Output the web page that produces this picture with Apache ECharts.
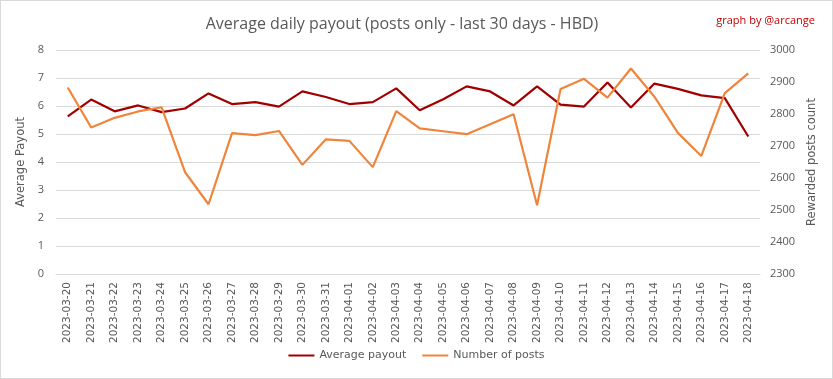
<!DOCTYPE html>
<html><head><meta charset="utf-8">
<script src="https://cdn.jsdelivr.net/npm/echarts@6/dist/echarts.min.js"></script>
<style>html,body{margin:0;padding:0;background:#fff}#c{width:833px;height:379px;box-sizing:border-box;border:1px solid #d9d9d9}</style>
</head><body><div id="c"></div>
<script>
const dates = ["2023-03-20","2023-03-21","2023-03-22","2023-03-23","2023-03-24","2023-03-25","2023-03-26","2023-03-27","2023-03-28","2023-03-29","2023-03-30","2023-03-31","2023-04-01","2023-04-02","2023-04-03","2023-04-04","2023-04-05","2023-04-06","2023-04-07","2023-04-08","2023-04-09","2023-04-10","2023-04-11","2023-04-12","2023-04-13","2023-04-14","2023-04-15","2023-04-16","2023-04-17","2023-04-18"];
const averagePayout = [5.63,6.23,5.81,6.02,5.78,5.91,6.45,6.07,6.14,5.98,6.52,6.32,6.07,6.14,6.63,5.85,6.24,6.70,6.52,6.02,6.70,6.05,5.98,6.84,5.95,6.80,6.61,6.38,6.28,4.91];
const numberOfPosts = [2883,2758,2788,2808,2821,2618,2518,2740,2734,2747,2641,2721,2716,2634,2809,2755,2746,2737,2768,2799,2515,2878,2910,2851,2942,2854,2741,2669,2865,2927];
const leftTicks = {min:0, max:8, interval:1};
const rightTicks = {min:2300, max:3000, interval:100};

const gray = '#595959';
const chart = echarts.init(document.getElementById('c'));
chart.setOption({
  animation:false,
  textStyle:{fontFamily:'Open Sans'},
  title:[
    {text:'Average daily payout (posts only - last 30 days - HBD)', left:396, top:10, textAlign:'center',
     textStyle:{fontFamily:'Open Sans', fontSize:16, fontWeight:'normal', color:gray}},
    {text:'graph by @arcange', right:12, top:9,
     textStyle:{fontFamily:'Open Sans', fontSize:11, fontWeight:'normal', color:'#c00000'}}
  ],
  legend:{bottom:12, left:'center', icon:'rect', itemWidth:26, itemHeight:2, itemGap:16,
    textStyle:{color:gray, fontSize:11, fontFamily:'DejaVu Sans'},
    data:['Average payout','Number of posts']},
  grid:{left:55, right:72, top:49, bottom:104},
  xAxis:{type:'category', data:dates, boundaryGap:true,
    axisLine:{lineStyle:{color:'#d9d9d9'}}, axisTick:{show:false},
    axisLabel:{rotate:90, interval:0, color:gray, fontSize:10.5, fontFamily:'DejaVu Sans', margin:8}},
  yAxis:[
    {type:'value', min:leftTicks.min, max:leftTicks.max, interval:leftTicks.interval,
     name:'Average Payout', nameLocation:'middle', nameRotate:90, nameGap:17,
     nameTextStyle:{color:gray, fontSize:11.5, fontFamily:'DejaVu Sans'},
     axisLabel:{color:gray, fontSize:11, margin:12},
     splitLine:{lineStyle:{color:'#d9d9d9'}}, axisLine:{show:false}, axisTick:{show:false}},
    {type:'value', min:rightTicks.min, max:rightTicks.max, interval:rightTicks.interval,
     name:'Rewarded posts count', nameLocation:'middle', nameRotate:90, nameGap:43,
     nameTextStyle:{color:gray, fontSize:11.5, fontFamily:'DejaVu Sans'},
     axisLabel:{color:gray, fontSize:11, margin:10, formatter:function(v){return String(v);}},
     splitLine:{show:false}, axisLine:{show:false}, axisTick:{show:false}}
  ],
  series:[
    {name:'Average payout', type:'line', yAxisIndex:0, data:averagePayout, symbol:'none',
     lineStyle:{color:'#a00000', width:2.2}, itemStyle:{color:'#a00000'}},
    {name:'Number of posts', type:'line', yAxisIndex:1, data:numberOfPosts, symbol:'none',
     lineStyle:{color:'#f0843a', width:2.2}, itemStyle:{color:'#f0843a'}}
  ]
});
</script></body></html>
